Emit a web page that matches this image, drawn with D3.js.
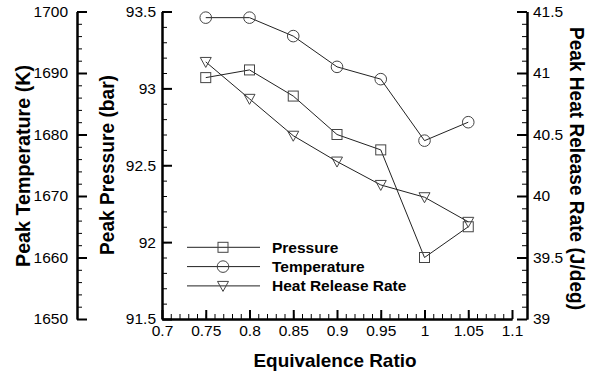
<!DOCTYPE html>
<html><head><meta charset="utf-8">
<script src="https://cdn.jsdelivr.net/npm/d3@7"></script>
<style>body{margin:0;background:#fff}svg{display:block}text{font-family:"Liberation Sans",Arial,sans-serif}</style>
</head><body>
<svg id="c" width="593" height="376"></svg>
<script>
const ratios = [0.75, 0.8, 0.85, 0.9, 0.95, 1.0, 1.05];
const pressure = [93.07, 93.12, 92.95, 92.70, 92.60, 91.90, 92.10];
const temperature = [1699, 1699, 1696, 1691, 1689, 1679, 1682];
const heatRelease = [41.09, 40.79, 40.49, 40.28, 40.09, 39.99, 39.79];
const xTicks = [0.7, 0.75, 0.8, 0.85, 0.9, 0.95, 1, 1.05, 1.1];
const pTicks = [91.5, 92, 92.5, 93, 93.5];
const tTicks = [1650, 1660, 1670, 1680, 1690, 1700];
const hTicks = [39, 39.5, 40, 40.5, 41, 41.5];
const legendNames = ["Pressure", "Temperature", "Heat Release Rate"];

const svg = d3.select("#c");
const yTop = 11.5, yBottom = 319;
const x = d3.scaleLinear().domain([0.7, 1.1]).range([162, 512]);
const yP = d3.scaleLinear().domain([91.5, 93.5]).range([yBottom, yTop]);
const yT = d3.scaleLinear().domain([1650, 1700]).range([yBottom, yTop]);
const yH = d3.scaleLinear().domain([39, 41.5]).range([yBottom, yTop]);
const fmt = d => String(+d.toFixed(2));
const tf = '"Liberation Sans",Arial,sans-serif';

function styleAxis(g, major) {
  g.select(".domain").attr("stroke", "#000").attr("stroke-width", 2);
  g.selectAll(".tick line").attr("stroke", "#000").attr("stroke-width", major ? 2 : 1);
  g.selectAll("text").attr("font-size", 15.5).attr("fill", "#000").attr("font-family", tf);
}
function minorVals(lo, hi, step) {
  const n = Math.round((hi - lo) / step);
  return d3.range(n + 1).map(i => lo + i * step);
}

// Temperature axis (outer left)
let g = svg.append("g").attr("transform", "translate(77,0)");
g.call(d3.axisLeft(yT).tickValues(minorVals(1650, 1700, 2)).tickSizeInner(-5).tickSizeOuter(0).tickFormat(""));
styleAxis(g, false);
g = svg.append("g").attr("transform", "translate(77,0)");
g.call(d3.axisLeft(yT).tickValues(tTicks).tickSizeInner(-10).tickSizeOuter(0).tickPadding(9).tickFormat(fmt));
styleAxis(g, true);

// Pressure axis
g = svg.append("g").attr("transform", "translate(162,0)");
g.call(d3.axisLeft(yP).tickValues(minorVals(91.5, 93.5, 0.1)).tickSizeInner(-5).tickSizeOuter(0).tickFormat(""));
styleAxis(g, false);
g = svg.append("g").attr("transform", "translate(162,0)");
g.call(d3.axisLeft(yP).tickValues(pTicks).tickSizeInner(-10).tickSizeOuter(0).tickPadding(6).tickFormat(fmt));
styleAxis(g, true);

// Heat release axis (right)
g = svg.append("g").attr("transform", "translate(527,0)");
g.call(d3.axisRight(yH).tickValues(minorVals(39, 41.5, 0.1)).tickSizeInner(-5).tickSizeOuter(0).tickFormat(""));
styleAxis(g, false);
g = svg.append("g").attr("transform", "translate(527,0)");
g.call(d3.axisRight(yH).tickValues(hTicks).tickSizeInner(-10).tickSizeOuter(0).tickPadding(6).tickFormat(fmt));
styleAxis(g, true);

// X axis
g = svg.append("g").attr("transform", `translate(0,${yBottom})`);
g.call(d3.axisBottom(x).tickValues(minorVals(0.7, 1.1, 0.01)).tickSizeInner(-5).tickSizeOuter(0).tickFormat(""));
styleAxis(g, false);
g = svg.append("g").attr("transform", `translate(0,${yBottom})`);
g.call(d3.axisBottom(x).tickValues(xTicks).tickSizeInner(-9).tickSizeOuter(0).tickPadding(6).tickFormat(fmt));
styleAxis(g, true);

// Titles
function title(tr, txt, len, size) {
  svg.append("text").attr("transform", tr).attr("text-anchor", "middle")
    .attr("font-size", size).attr("font-weight", "bold").attr("font-family", tf)
    .attr("textLength", len).attr("lengthAdjust", "spacingAndGlyphs").text(txt);
}
title("translate(335,366.5)", "Equivalence Ratio", 163, 18.5);
title("translate(30,166) rotate(-90)", "Peak Temperature (K)", 202, 20);
title("translate(114,165) rotate(-90)", "Peak Pressure (bar)", 180, 20);
title("translate(570,168.5) rotate(90)", "Peak Heat Release Rate (J/deg)", 283, 20);

// Markers
const lineColor = "#222", markColor = "#444";
function marker(sel, type) {
  if (type === 0) {
    sel.append("rect").attr("x", -5).attr("y", -5).attr("width", 10).attr("height", 10);
  } else if (type === 1) {
    sel.append("circle").attr("r", 5.8);
  } else {
    sel.append("path").attr("d", "M-5.5,-4.5L5.5,-4.5L0,5.5Z");
  }
  sel.attr("fill", "none").attr("stroke", markColor).attr("stroke-width", 1);
}
const series = [
  {vals: pressure, y: yP},
  {vals: temperature, y: yT},
  {vals: heatRelease, y: yH}
];
series.forEach((s, i) => {
  const pts = ratios.map((r, j) => [x(r), s.y(s.vals[j])]);
  svg.append("path").attr("d", d3.line()(pts)).attr("fill", "none").attr("stroke", lineColor).attr("stroke-width", 1);
  pts.forEach(p => {
    const m = svg.append("g").attr("transform", `translate(${p[0]},${p[1]})`);
    marker(m, i);
  });
});

// Legend
legendNames.forEach((name, i) => {
  const ly = 247.3 + i * 19.3;
  svg.append("line").attr("x1", 187).attr("x2", 260).attr("y1", ly).attr("y2", ly)
    .attr("stroke", lineColor).attr("stroke-width", 1);
  const m = svg.append("g").attr("transform", `translate(223,${ly})`);
  marker(m, i);
  svg.append("text").attr("x", 272).attr("y", ly).attr("dy", "0.36em")
    .attr("font-size", 15.5).attr("font-weight", "bold").attr("font-family", tf).text(name);
});
</script>
</body></html>
